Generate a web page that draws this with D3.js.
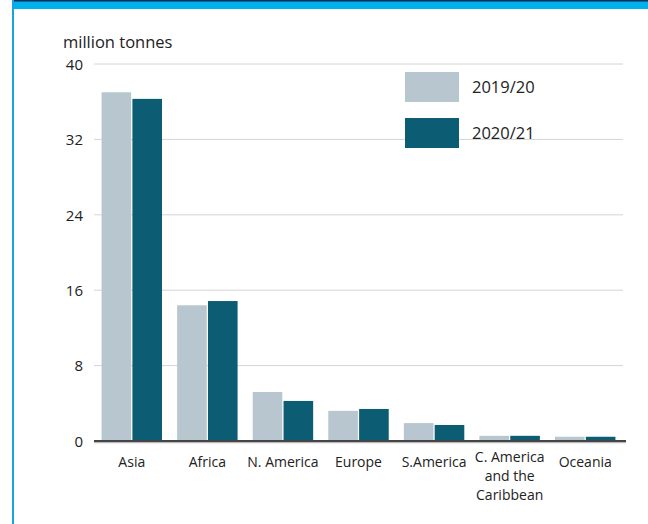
<!DOCTYPE html>
<html><head><meta charset="utf-8">
<script src="https://cdn.jsdelivr.net/npm/d3@7"></script>
<style>
html,body{margin:0;padding:0;background:#fff;}
svg{display:block;font-family:"Open Sans",sans-serif;}
</style></head>
<body>
<svg id="c" width="648" height="524"></svg>
<script>
const categories = [["Asia"],["Africa"],["N. America"],["Europe"],["S.America"],["C. America","and the","Caribbean"],["Oceania"]];
const seriesNames = ["2019/20","2020/21"];
const values2019 = [37.0, 14.4, 5.2, 3.2, 1.9, 0.55, 0.45];
const values2020 = [36.3, 14.85, 4.25, 3.4, 1.7, 0.55, 0.45];
const yTicks = [0, 8, 16, 24, 32, 40];
const colors = ["#b8c6cf", "#0c5c74"];

const svg = d3.select("#c");
// frame
svg.append("rect").attr("x",12).attr("y",0).attr("width",636).attr("height",9).attr("fill","#00b1ee");
svg.append("rect").attr("x",12).attr("y",0).attr("width",636).attr("height",1.5).attr("fill","#0b2f5c");
svg.append("rect").attr("x",12).attr("y",0).attr("width",2).attr("height",524).attr("fill","#1aa3e0");

const y = d3.scaleLinear().domain([0,40]).range([441,64]);
const x0 = d3.scaleBand().domain(d3.range(categories.length)).range([94,623]).paddingInner(0.2).paddingOuter(0.1);
const x1 = d3.scaleBand().domain([0,1]).range([0,x0.bandwidth()]).paddingInner(0.04);

// grid
const yAxis = d3.axisLeft(y).tickValues(yTicks).tickSize(0).tickPadding(0);
const g = svg.append("g").attr("transform","translate(83,0)").call(yAxis);
g.select(".domain").remove();
g.selectAll("text").attr("font-size",15).attr("fill","#222").attr("font-family","Open Sans, sans-serif").attr("dy","0.35em");
svg.append("g").selectAll("line").data(yTicks.filter(d=>d>0)).join("line")
  .attr("x1",94).attr("x2",623).attr("y1",d=>y(d)).attr("y2",d=>y(d))
  .attr("stroke","#d4d4d4").attr("stroke-width",1);

svg.append("text").attr("x",63).attr("y",48).attr("font-size",16.5).attr("fill","#222").text("million tonnes");

// bars
const data = [values2019, values2020];
const groups = svg.append("g").selectAll("g").data(categories).join("g")
  .attr("transform",(d,i)=>`translate(${x0(i)},0)`);
groups.selectAll("rect").data((d,i)=>data.map((s,k)=>({k, v:s[i]}))).join("rect")
  .attr("x",d=>x1(d.k)).attr("width",x1.bandwidth())
  .attr("y",d=>y(d.v)).attr("height",d=>y(0)-y(d.v))
  .attr("fill",d=>colors[d.k]);

// zero axis
svg.append("line").attr("x1",94).attr("x2",626).attr("y1",442.5).attr("y2",442.5).attr("stroke","#bbb").attr("stroke-width",1.5);
svg.append("line").attr("x1",94).attr("x2",626).attr("y1",441).attr("y2",441).attr("stroke","#444").attr("stroke-width",2);

// category labels
const xa = d3.axisBottom(x0).tickSize(0).tickFormat(()=> "");
svg.append("g").attr("transform","translate(0,441)").call(xa).select(".domain").remove();
categories.forEach((lines,i)=>{
  const cx = x0(i)+x0.bandwidth()/2;
  const startY = lines.length>1 ? 462 : 467;
  const t = svg.append("text").attr("text-anchor","middle").attr("font-size",14).attr("fill","#222");
  lines.forEach((ln,j)=>t.append("tspan").attr("x",cx).attr("y",startY+j*19).text(ln));
});

// legend
const leg = svg.append("g");
seriesNames.forEach((n,k)=>{
  const yy = 72 + k*46;
  leg.append("rect").attr("x",405).attr("y",yy).attr("width",54).attr("height",30).attr("fill",colors[k]);
  leg.append("text").attr("x",472).attr("y",yy+15).attr("dy","0.35em").attr("font-size",16.5).attr("fill","#222").text(n);
});
</script>
</body></html>
